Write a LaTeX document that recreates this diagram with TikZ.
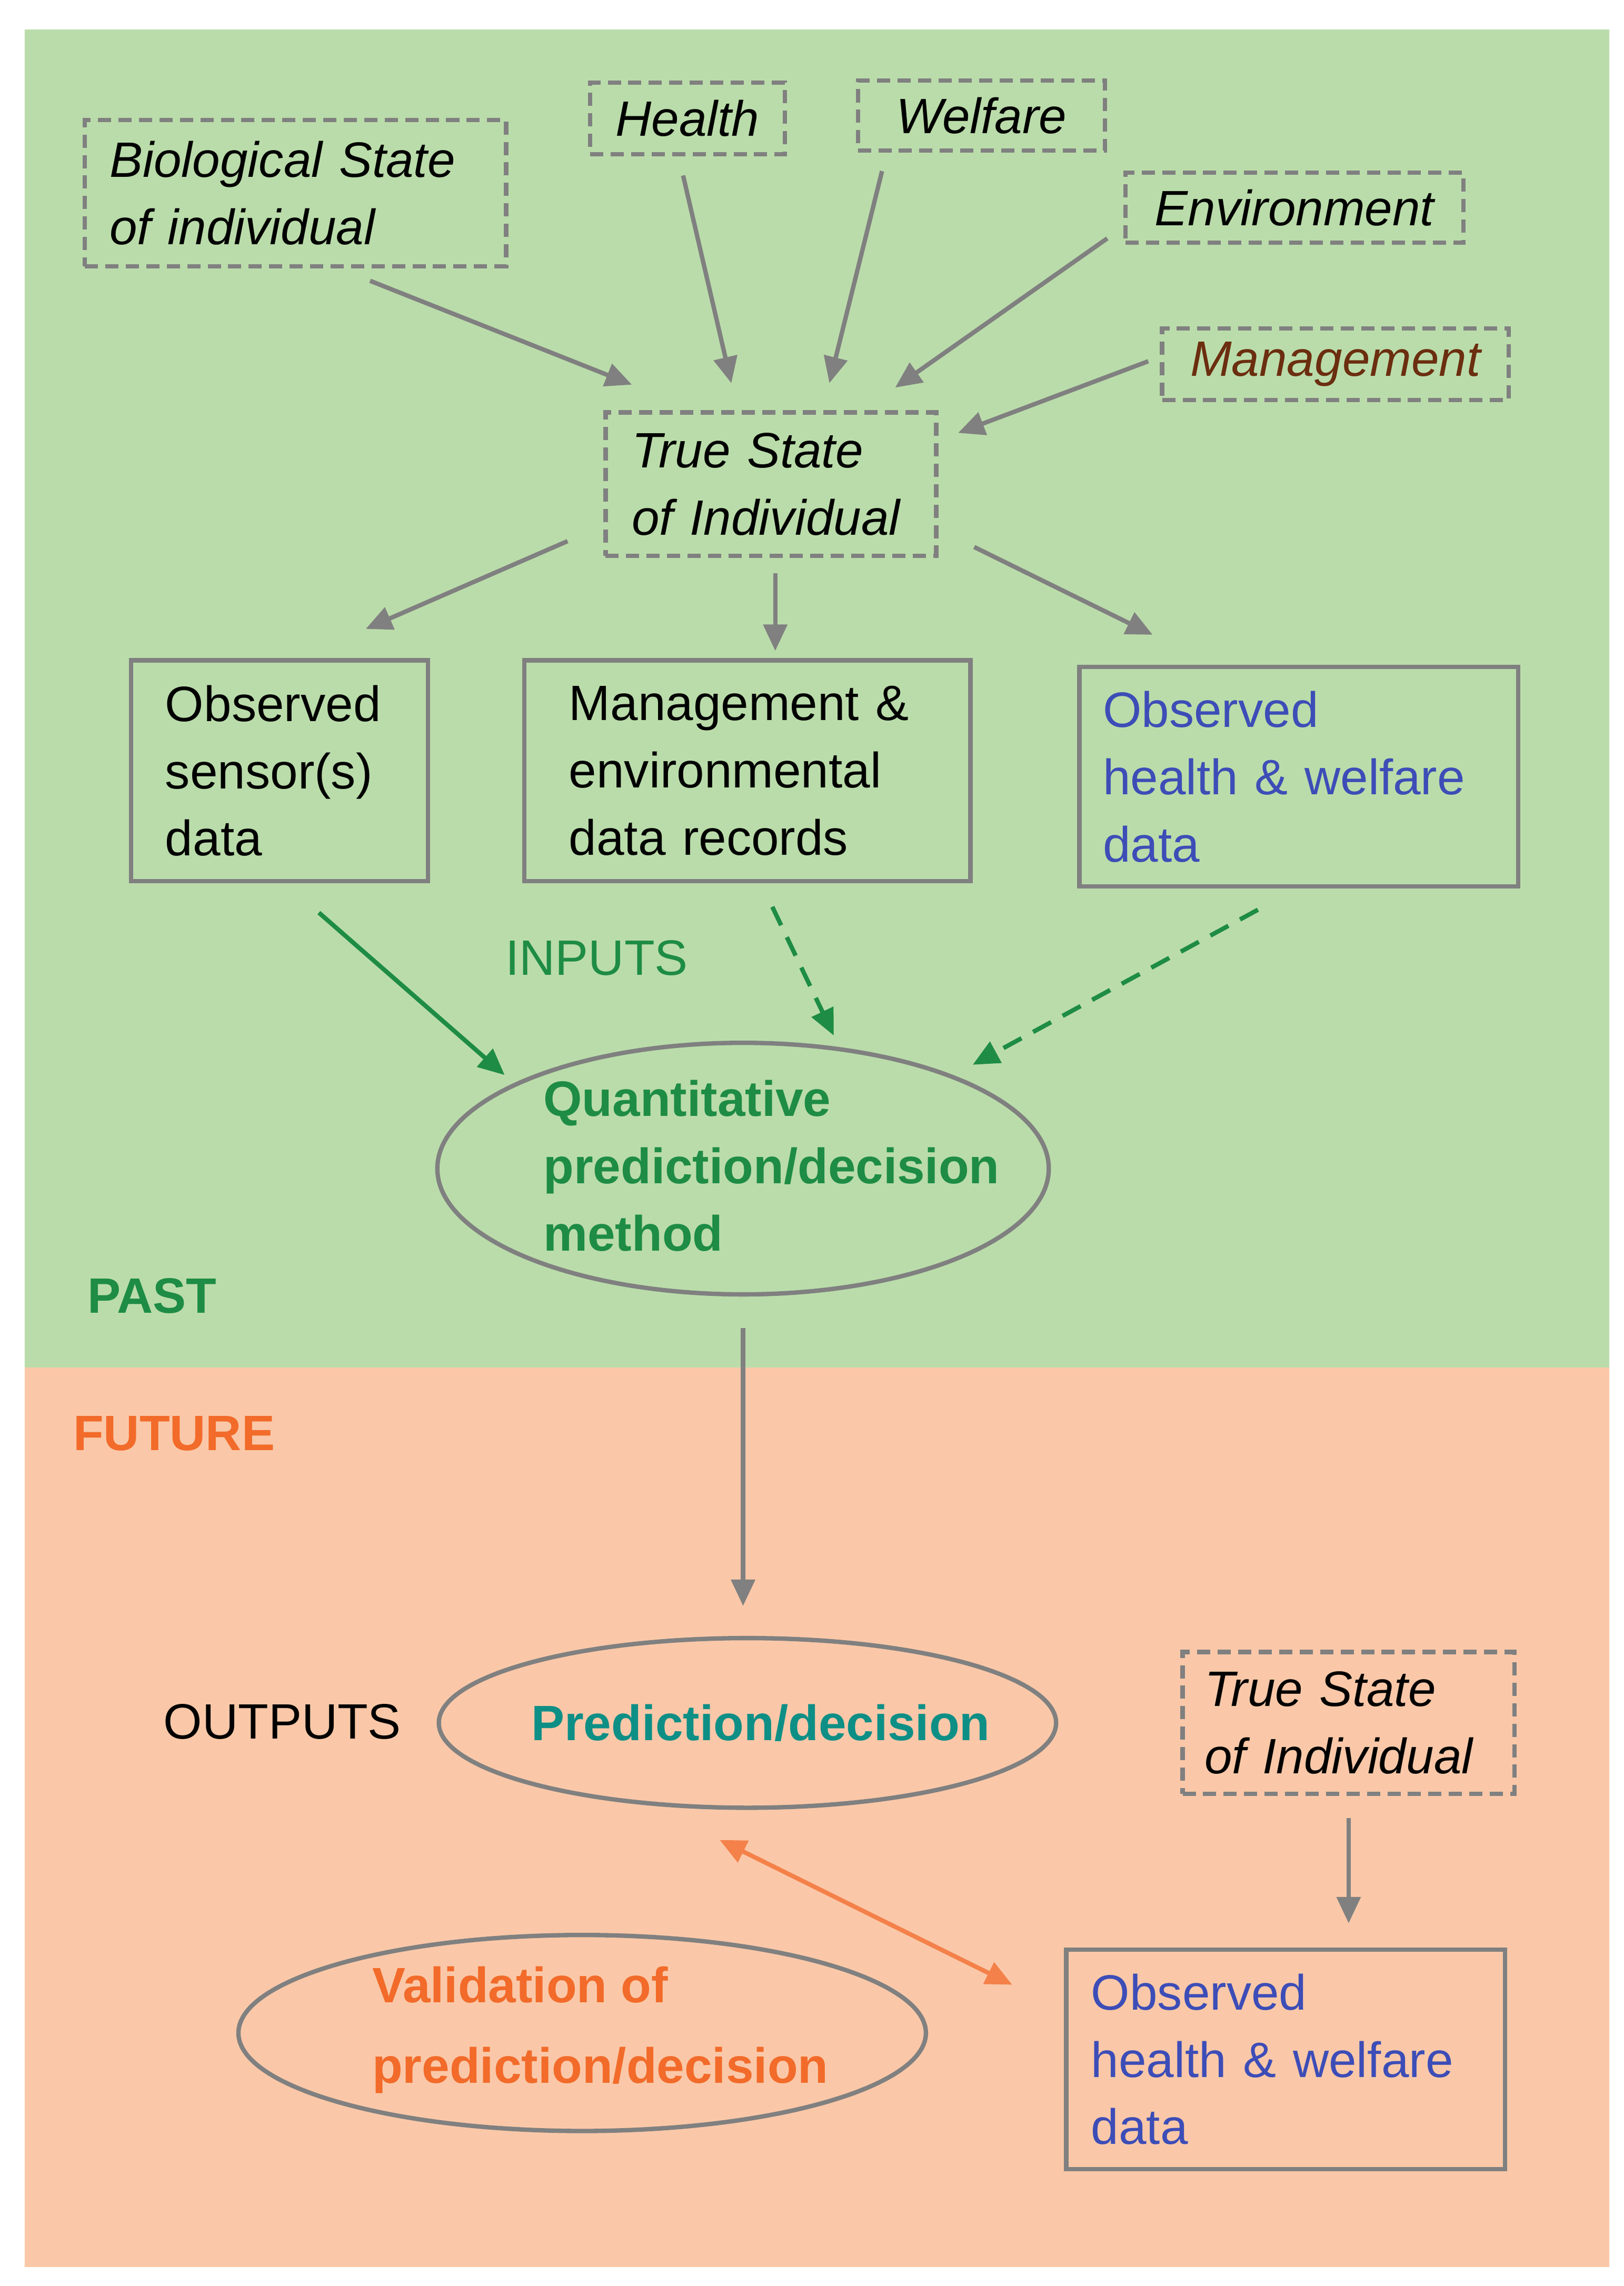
\documentclass[tikz,border=0pt]{standalone}
\usepackage{fontspec}
\setmainfont{Liberation Sans}
\usetikzlibrary{shapes.geometric,arrows.meta}
\definecolor{bggreen}{HTML}{BADCAA}
\definecolor{bgpeach}{HTML}{FAC8A8}
\definecolor{gline}{HTML}{808080}
\definecolor{dgreen}{HTML}{1E8C45}
\definecolor{teal2}{HTML}{0E8F86}
\definecolor{orng}{HTML}{F26B2A}
\definecolor{blu}{HTML}{3D4DB7}
\definecolor{brwn}{HTML}{6B2E0F}
\begin{document}
\begin{tikzpicture}[x=1pt,y=-1pt,
  every node/.style={font=\fontsize{34}{46}\selectfont},
  dbox/.style={draw=gline,dashed,line width=3pt,dash pattern=on 9pt off 5pt,inner sep=0pt,font=\fontsize{34}{46}\selectfont\itshape},
  sbox/.style={draw=gline,line width=3pt,inner sep=0pt},
  ell/.style={draw=gline,line width=3pt,ellipse},
  arr/.style={draw=gline,line width=3pt,-{Triangle[length=18pt,width=16pt]}},
  garr/.style={draw=dgreen,line width=3pt,-{Triangle[length=18pt,width=16pt]}}]
\useasboundingbox (0,0) rectangle (1110,1563);
\fill[white] (0,0) rectangle (1110,1563);
\fill[bggreen] (17,20) rectangle (1100,935);
\fill[bgpeach] (17,935) rectangle (1100,1550);
% dashed boxes
\node[dbox,minimum width=288pt,minimum height=100pt,text width=254pt,align=left] (bio) at (202,132) {Biological State\\of individual};
\node[dbox,minimum width=133pt,minimum height=49pt,align=center] (health) at (470,81) {Health};
\node[dbox,minimum width=169pt,minimum height=48pt,align=center] (welf) at (671,79) {Welfare};
\node[dbox,minimum width=231pt,minimum height=48pt,align=center] (env) at (885,142) {Environment};
\node[dbox,minimum width=237pt,minimum height=49pt,align=center,text=brwn] (mgmt) at (913,249) {Management};
\node[dbox,minimum width=226pt,minimum height=98pt,text width=190pt,align=left] (ts) at (527,331) {True State\\of Individual};
% solid boxes
\node[sbox,minimum width=203pt,minimum height=151pt,text width=156pt,align=left] (obs) at (191,527) {Observed\\sensor(s)\\data};
\node[sbox,minimum width=305pt,minimum height=151pt,text width=244pt,align=left] (me) at (511,527) {Management \&\\environmental\\data records};
\node[sbox,minimum width=300pt,minimum height=150pt,text width=268pt,align=left,text=blu] (ohw) at (888,531) {Observed\\health \& welfare\\data};
\node[text=dgreen] (inp) at (408,655) {INPUTS};
\node[ell,minimum width=418pt,minimum height=172pt] (q) at (508,799) {};
\node[anchor=west,text=dgreen,font=\fontsize{34}{46}\selectfont\bfseries,align=left] (qt) at (368,797) {Quantitative\\prediction/decision\\method};
\node[text=dgreen,font=\fontsize{34}{46}\selectfont\bfseries] (past) at (104,886) {PAST};
\node[text=orng,font=\fontsize{34}{46}\selectfont\bfseries] (fut) at (119,980) {FUTURE};
\node[ell,minimum width=422pt,minimum height=116pt] (pd) at (511,1178) {};
\node[text=teal2,font=\fontsize{34}{46}\selectfont\bfseries] (pdt) at (520,1178) {Prediction/decision};
\node (out) at (193,1177) {OUTPUTS};
\node[dbox,minimum width=227pt,minimum height=97pt,text width=197pt,align=left] (ts2) at (922,1178) {True State\\of Individual};
\node[sbox,minimum width=300pt,minimum height=150pt,text width=266pt,align=left,text=blu] (ohw2) at (879,1408) {Observed\\health \& welfare\\data};
\node[ell,minimum width=470pt,minimum height=134pt] (val) at (398,1390) {};
\node[anchor=west,text=orng,font=\fontsize{34}{55}\selectfont\bfseries,align=left] (valt) at (251,1388) {Validation of\\prediction/decision};
% coordinates
\foreach \n/\p in {a1/{253,192},a2/{432,263},b1/{467,120},b2/{500,262},c1/{603,117},c2/{567,262},d1/{757,163},d2/{612,265},e1/{785,247},e2/{655,296},f1/{388,370},f2/{250,430},g1/{530,392},g2/{530,445},h1/{666,374},h2/{788,434},i1/{218,624},i2/{345,735},j1/{528,620},j2/{570,708},k1/{860,622},k2/{665,728},l1/{508,908},l2/{508,1098},m1/{922,1243},m2/{922,1315},n1/{492,1258},n2/{692,1357}}
  \coordinate (\n) at (\p);
\foreach \s/\t in {a1/a2,b1/b2,c1/c2,d1/d2,e1/e2,f1/f2,g1/g2,h1/h2,l1/l2,m1/m2}
  \draw[arr] (\s) -- (\t);
\draw[garr] (i1) -- (i2);
\draw[garr,dash pattern=on 14pt off 9pt] (j1) -- (j2);
\draw[garr,dash pattern=on 14pt off 9pt] (k1) -- (k2);
\draw[draw=orng!85,line width=3pt,{Triangle[length=18pt,width=16pt]}-{Triangle[length=18pt,width=16pt]}] (n1) -- (n2);
\end{tikzpicture}
\end{document}
